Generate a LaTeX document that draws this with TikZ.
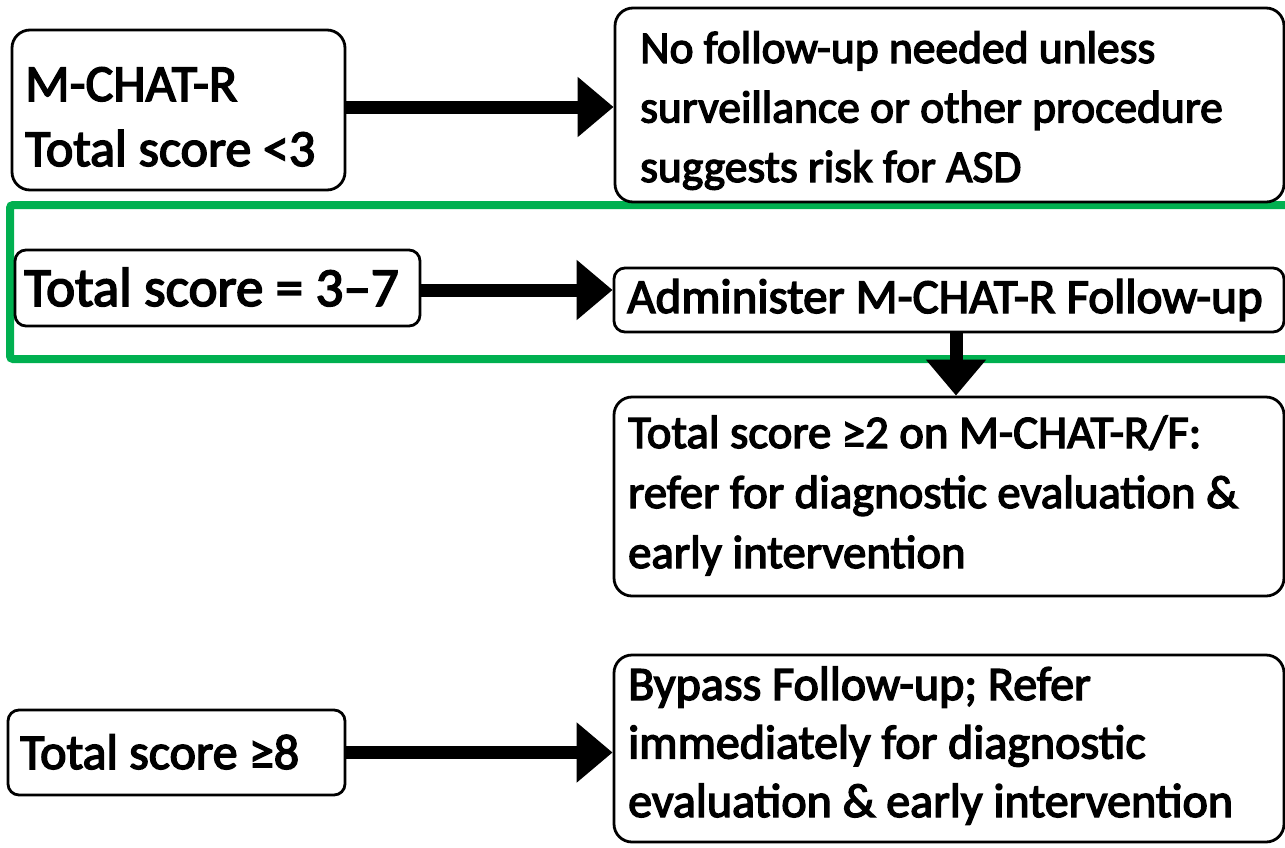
\documentclass[tikz,border=0pt]{standalone}
\usepackage{fontspec}
\setmainfont{Carlito}[FakeBold=3]
\usetikzlibrary{arrows.meta}
\definecolor{bandgreen}{HTML}{00B050}
\begin{document}
\begin{tikzpicture}[x=1pt,y=-1pt,
  stepbox/.style={draw=black, line width=2.8pt, rounded corners=18pt,
    inner sep=0pt, anchor=center},
  smallbox/.style={stepbox, rounded corners=11pt},
  lefttext/.style={inner sep=0pt, anchor=base west,
    font=\fontsize{52}{65}\selectfont},
  righttext/.style={inner sep=0pt, anchor=base west,
    font=\fontsize{45.5}{59.5}\selectfont},
  flow/.style={line width=13pt, -{Triangle[length=36pt, width=58pt]}}]
\useasboundingbox (0,0) rectangle (1285,847);

% highlighted row for the intermediate score band
\draw[bandgreen, line width=8pt, rounded corners=3pt]
  (10,205) rectangle (1320,359);

% left column: score ranges
\node[stepbox, minimum width=333pt, minimum height=160pt] (low) at (178.5,110) {};
\node[smallbox, minimum width=405pt, minimum height=76pt] (mid) at (217.5,288) {};
\node[smallbox, minimum width=337pt, minimum height=85pt] (high) at (176.5,752.5) {};

\node[lefttext] (lowtext) at (25,101)
  {\vtop{\hbox{M-CHAT-R}\hbox{Total score <3}}};
\node[lefttext, font=\fontsize{55}{65}\selectfont] (midtext) at (24,306)
  {Total score = 3–7};
\node[lefttext, font=\fontsize{50}{60}\selectfont] (hightext) at (20,769)
  {Total score ≥8};

% right column: actions
\node[stepbox, minimum width=669pt, minimum height=194pt] (nofollow) at (949.5,105) {};
\node[smallbox, minimum width=670pt, minimum height=64pt] (followup) at (949,300) {};
\node[stepbox, minimum width=670pt, minimum height=199pt] (refer) at (949,496.5) {};
\node[stepbox, minimum width=670pt, minimum height=187pt] (bypass) at (949,748.5) {};

\node[righttext] (nofollowtext) at (640,63)
  {\vtop{\hbox{No follow-up needed unless}
         \hbox{surveillance or other procedure}
         \hbox{suggests risk for ASD}}};
\node[righttext, font=\fontsize{49}{60}\selectfont] (followuptext) at (627,313)
  {Administer M-CHAT-R Follow-up};
\node[righttext, font=\fontsize{46.7}{60}\selectfont] (refertext) at (628,448)
  {\vtop{\hbox{Total score ≥2 on M-CHAT-R/F:}
         \hbox{refer for diagnostic evaluation \&}
         \hbox{early intervention}}};
\node[righttext, font=\fontsize{48}{58.5}\selectfont] (bypasstext) at (628,700)
  {\vtop{\hbox{Bypass Follow-up; Refer}
         \hbox{immediately for diagnostic}
         \hbox{evaluation \& early intervention}}};

% connectors
\draw[flow] (low.east |- 0,107) -- (nofollow.west |- 0,107);
\draw[flow] (mid.east |- 0,290) -- (followup.west |- 0,290);
\draw[flow] (followup.south -| 956,0) -- (refer.north -| 956,0);
\draw[flow] (high.east) -- (high.east -| bypass.west);
\end{tikzpicture}
\end{document}
